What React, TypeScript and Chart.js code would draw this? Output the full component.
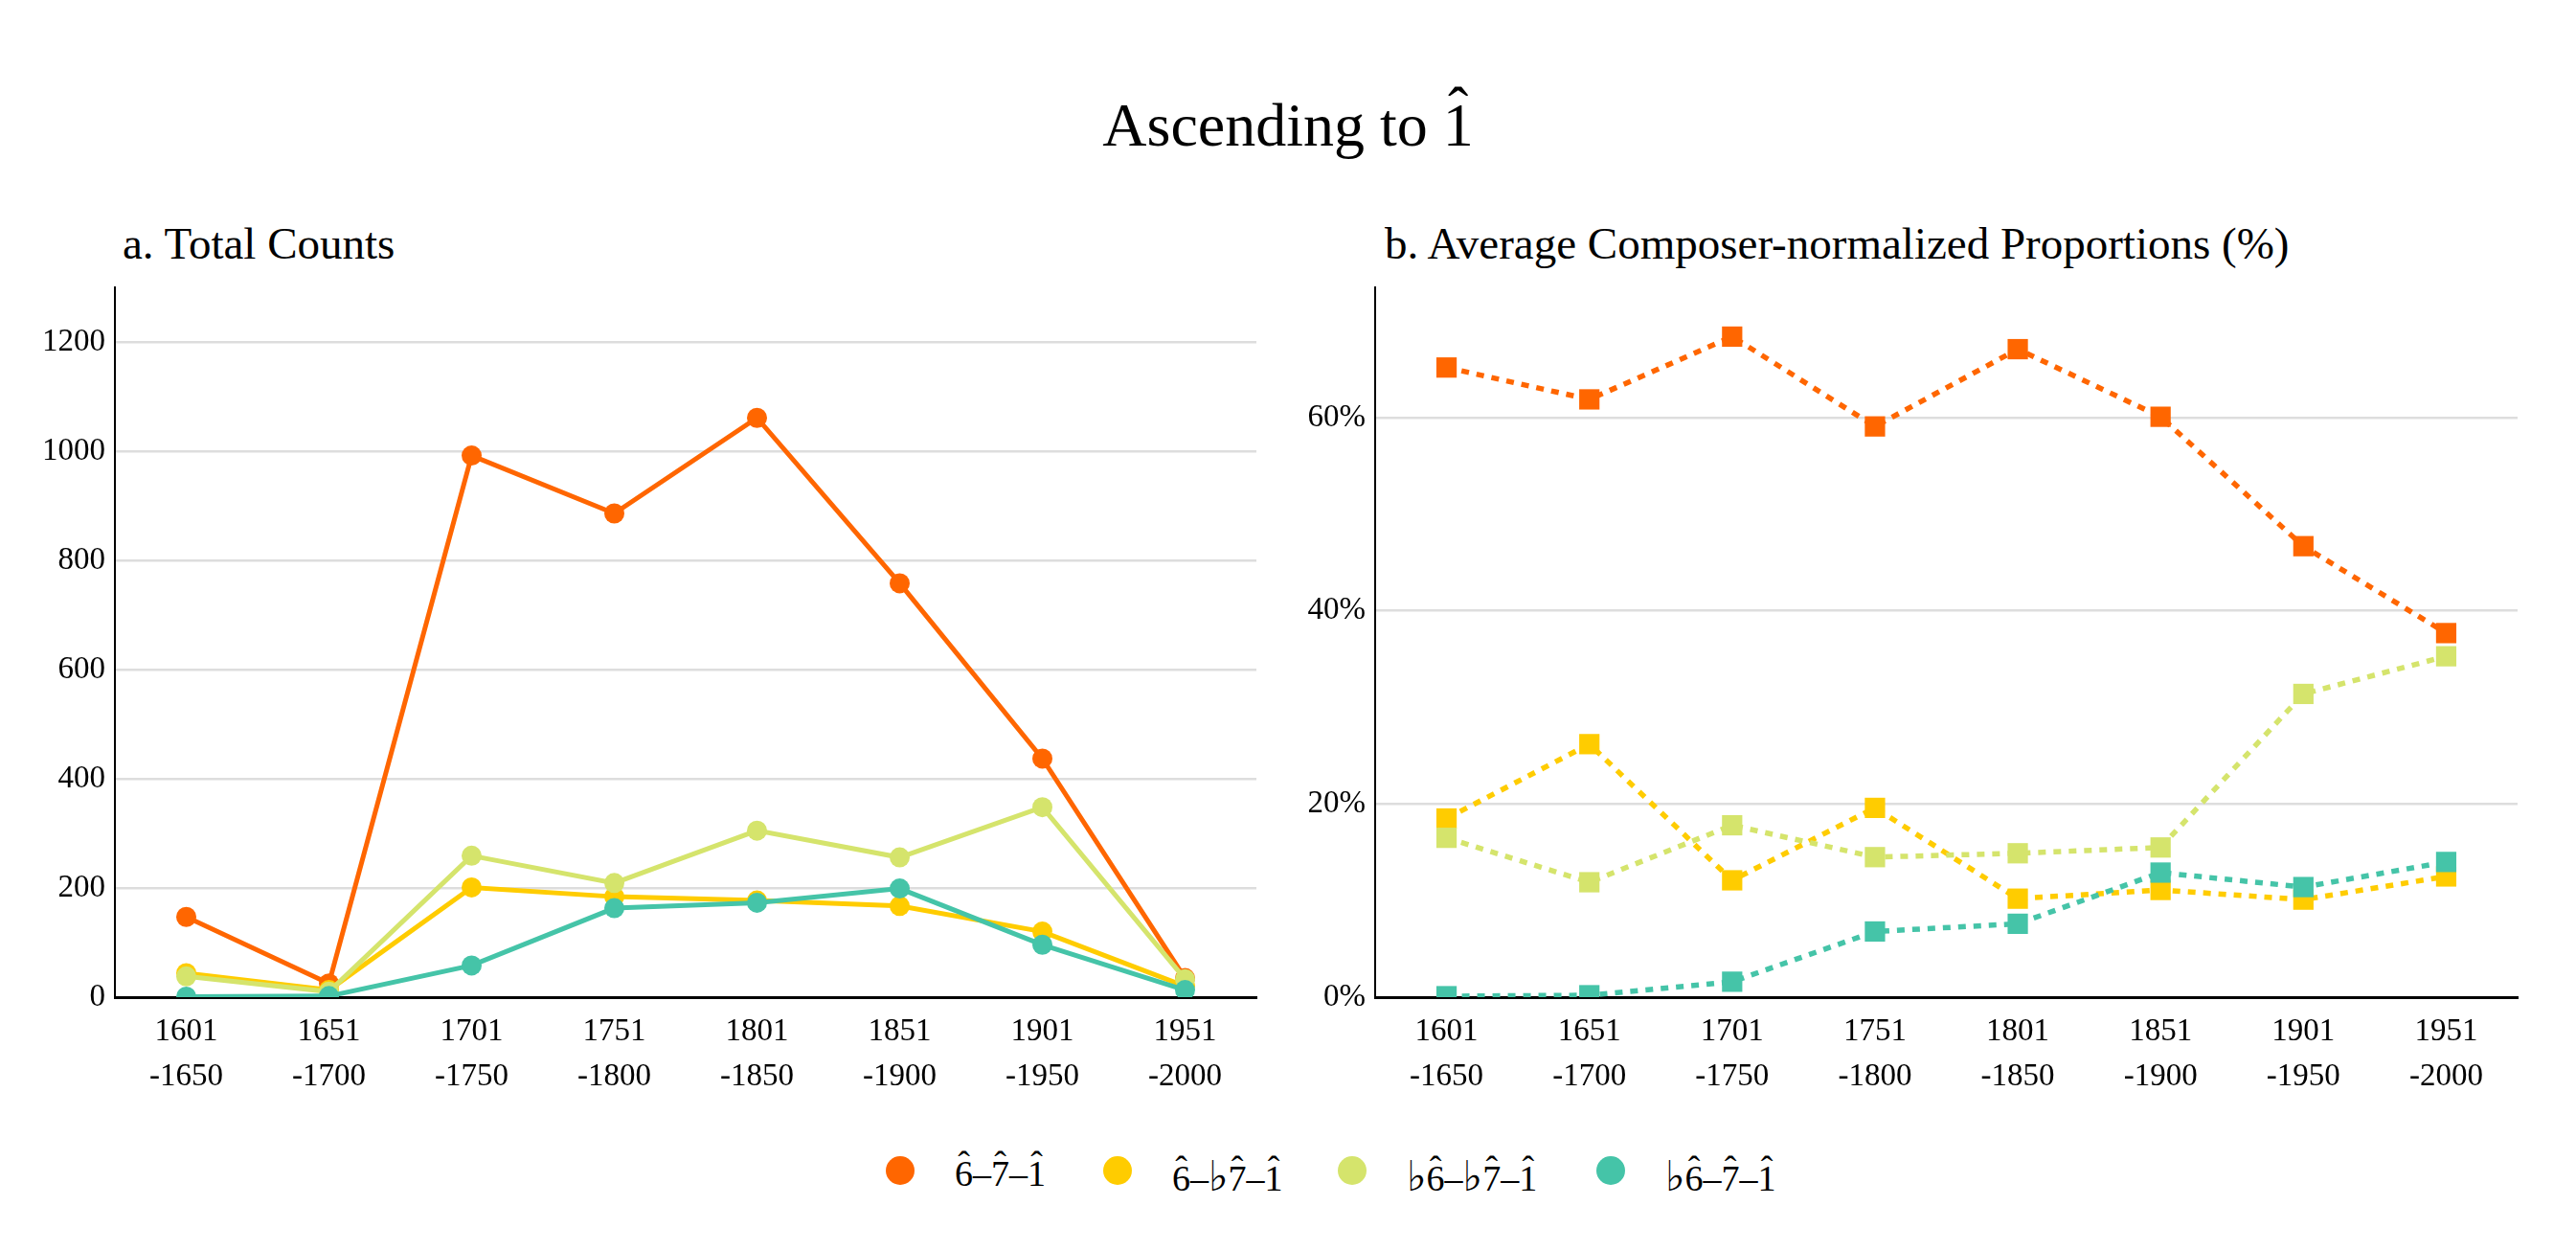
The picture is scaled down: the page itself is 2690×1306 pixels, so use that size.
import React, { useEffect, useRef } from "react";
import { Chart, registerables } from "chart.js";

Chart.register(...registerables);

// categorias (períodos de 50 anos)
const periods = [
  ["1601", "-1650"],
  ["1651", "-1700"],
  ["1701", "-1750"],
  ["1751", "-1800"],
  ["1801", "-1850"],
  ["1851", "-1900"],
  ["1901", "-1950"],
  ["1951", "-2000"],
];

const seriesNames = ["6\u0302–7\u0302–1\u0302", "6\u0302–♭7\u0302–1\u0302", "♭6\u0302–♭7\u0302–1\u0302", "♭6\u0302–7\u0302–1\u0302"];
const seriesColors = ["#ff6600", "#ffcc00", "#d5e46c", "#45c4a8"];

// a. contagens totais
const counts67 = [147, 25, 992, 886, 1061, 758, 437, 35];
const counts6b7 = [44, 13, 201, 184, 177, 167, 120, 20];
const countsb6b7 = [38, 10, 259, 209, 305, 256, 348, 33];
const countsb67 = [1, 2, 58, 163, 173, 199, 96, 13];

// b. proporções médias (%)
const pct67 = [65.2, 61.9, 68.4, 59.1, 67.1, 60.1, 46.7, 37.7];
const pct6b7 = [18.5, 26.2, 12.1, 19.6, 10.2, 11.1, 10.1, 12.5];
const pctb6b7 = [16.5, 11.9, 17.8, 14.5, 14.9, 15.5, 31.4, 35.3];
const pctb67 = [0.1, 0.2, 1.6, 6.8, 7.6, 12.9, 11.4, 14.0];

const countTicks = [0, 200, 400, 600, 800, 1000, 1200];
const pctTicks = [0, 20, 40, 60];

const FONT = '"Liberation Serif", "DejaVu Serif", serif';

type PanelProps = {
  series: number[][];
  max: number;
  tickValues: number[];
  suffix: string;
  dashed: boolean;
  yWidth: number;
  padRight: number;
};

const Panel: React.FC<PanelProps> = ({ series, max, tickValues, suffix, dashed, yWidth, padRight }) => {
  const canvasRef = useRef<HTMLCanvasElement | null>(null);
  const chartRef = useRef<Chart | null>(null);

  useEffect(() => {
    if (!canvasRef.current) return;
    const ctx = canvasRef.current.getContext("2d");
    if (!ctx) return;

    chartRef.current = new Chart(ctx, {
      type: "line",
      data: {
        labels: periods,
        datasets: series.map((values, i) => ({
          label: seriesNames[i],
          data: values,
          borderColor: seriesColors[i],
          backgroundColor: seriesColors[i],
          pointBackgroundColor: seriesColors[i],
          borderWidth: dashed ? 5.5 : 5,
          borderDash: dashed ? [8, 8] : [],
          pointStyle: dashed ? "rect" : "circle",
          pointRadius: dashed ? 15 : 10.5,
          pointBorderWidth: 0,
          tension: 0,
          clip: 0,
          order: series.length - i, // o último traço fica por cima
        })),
      },
      options: {
        animation: false,
        responsive: true,
        maintainAspectRatio: false,
        devicePixelRatio: 1,
        // topo da área = metade da altura do rótulo + padding dos ticks (10 + 10)
        layout: { padding: { top: 0, right: padRight, left: 0, bottom: 0 } },
        plugins: { legend: { display: false }, tooltip: { enabled: false }, title: { display: false } },
        scales: {
          x: {
            offset: true,
            grid: { display: false, drawTicks: false },
            border: { display: true, color: "#000", width: 3 },
            ticks: {
              color: "#000",
              padding: 13,
              maxRotation: 0,
              autoSkip: false,
              font: { family: FONT, size: 33, lineHeight: 1.42 },
            },
            afterFit: (scale: any) => {
              scale.height = 119;
            },
          },
          y: {
            min: 0,
            max: max,
            grid: { color: "#dddddd", lineWidth: 2.5, drawTicks: false },
            border: { display: true, color: "#000", width: 2 },
            ticks: {
              color: "#000",
              padding: 10,
              font: { family: FONT, size: 33, lineHeight: 20 / 33 },
              callback: (v: any) => v + suffix,
            },
            afterBuildTicks: (scale: any) => {
              scale.ticks = tickValues.map((v) => ({ value: v }));
            },
            afterFit: (scale: any) => {
              scale.width = yWidth;
            },
          },
        },
      },
    });

    return () => {
      if (chartRef.current) {
        chartRef.current.destroy();
        chartRef.current = null;
      }
    };
  }, []);

  return <canvas ref={canvasRef} />;
};

// acento circunflexo desenhado sobre o grau da escala
const Hat: React.FC<{ children: React.ReactNode }> = ({ children }) => (
  <span style={{ position: "relative", display: "inline-block" }}>
    {children}
    <span style={{ position: "absolute", left: 0, right: 0, top: "-0.27em", textAlign: "center" }}>{"\u02C6"}</span>
  </span>
);

const degreeText = (s: string) => {
  const chars = Array.from(s);
  const out: React.ReactNode[] = [];
  for (let i = 0; i < chars.length; i++) {
    if (chars[i + 1] === "\u0302") {
      out.push(<Hat key={i}>{chars[i]}</Hat>);
      i++;
    } else if (chars[i] === "♭") {
      out.push(
        <span key={i} style={{ fontFamily: '"DejaVu Sans", sans-serif', fontSize: "1.15em" }}>
          ♭
        </span>
      );
    } else {
      out.push(<span key={i}>{chars[i]}</span>);
    }
  }
  return out;
};

const textBase: React.CSSProperties = {
  position: "absolute",
  fontFamily: FONT,
  color: "#000",
  lineHeight: 1,
  whiteSpace: "nowrap",
};

const legendDots = [925, 1152, 1397, 1667];

const App: React.FC = () => {
  return (
    <div style={{ position: "fixed", left: 0, top: 0, width: 2690, height: 1306, background: "#fff", overflow: "hidden" }}>
      <div style={{ ...textBase, fontSize: 64, top: 99, left: 0, width: 2690, textAlign: "center" }}>
        {degreeText("Ascending to 1\u0302")}
      </div>

      <div style={{ ...textBase, fontSize: 47, top: 231, left: 128 }}>a. Total Counts</div>
      <div style={{ ...textBase, fontSize: 47, top: 231, left: 1446 }}>b. Average Composer-normalized Proportions (%)</div>

      <div style={{ position: "absolute", left: 0, top: 280, width: 1345, height: 880 }}>
        <Panel
          series={[counts67, counts6b7, countsb6b7, countsb67]}
          max={1300}
          tickValues={countTicks}
          suffix=""
          dashed={false}
          yWidth={120}
          padRight={33}
        />
      </div>
      <div style={{ position: "absolute", left: 1345, top: 280, width: 1345, height: 880 }}>
        <Panel
          series={[pct67, pct6b7, pctb6b7, pctb67]}
          max={73.5}
          tickValues={pctTicks}
          suffix="%"
          dashed={true}
          yWidth={91}
          padRight={61}
        />
      </div>

      {seriesNames.map((name, i) => (
        <React.Fragment key={name}>
          <div
            style={{
              position: "absolute",
              left: legendDots[i],
              top: 1207,
              width: 30,
              height: 30,
              borderRadius: "50%",
              background: seriesColors[i],
            }}
          />
          <div style={{ ...textBase, fontSize: 38, top: 1206, left: legendDots[i] + 72 }}>{degreeText(name)}</div>
        </React.Fragment>
      ))}
    </div>
  );
};

export default App;
